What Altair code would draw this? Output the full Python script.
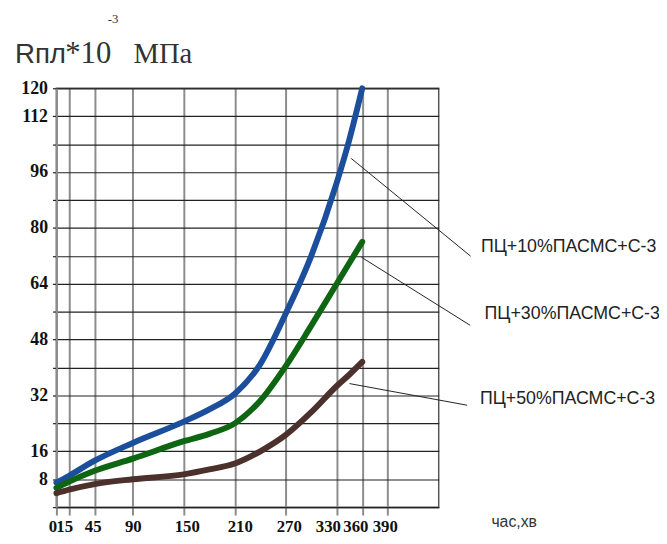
import altair as alt
import pandas as pd

# ---- data ----
times = [0, 15, 45, 90, 150, 180, 210, 240, 270, 300, 330, 345, 360]
blue = [7.0, 9.0, 13.3, 18.4, 24.5, 28.0, 32.5, 41.0, 55.5, 72.0, 93.0, 105.5, 120.0]
green = [5.5, 7.3, 10.4, 13.9, 18.9, 21.0, 24.0, 30.5, 40.4, 52.0, 64.0, 70.0, 76.0]
brown = [4.0, 5.0, 6.6, 8.0, 9.4, 10.8, 12.5, 16.0, 20.7, 27.2, 34.7, 38.0, 41.6]
series_names = ["ПЦ+10%ПАСМС+С-3", "ПЦ+30%ПАСМС+С-3", "ПЦ+50%ПАСМС+С-3"]
series_colors = ["#1b4f9c", "#0e6612", "#4b302b"]

x_ticks = [0, 15, 45, 90, 150, 210, 270, 330, 360, 390]
x_label_shift = [-4, -5, -2, 0, 3, 5, 3, -9, -7, -3]
y_grid = list(range(0, 121, 8))
y_labels = [8, 16, 32, 48, 64, 80, 96, 112, 120]

# leader lines (data units) and label anchors
lead_x1 = [347.0, 359.0, 345.0]
lead_y1 = [99.9, 71.6, 35.4]
lead_x2 = [487.6, 487.0, 483.5]
lead_y2 = [71.9, 52.1, 29.2]
lab_x = [499.7, 504.0, 498.5]
lab_y = [74.4, 55.2, 31.1]

x_title = "час,хв"
y_title_parts = ["Rпл", "*10", "-3", "МПа"]

rows = []
for name, vals in zip(series_names, [blue, green, brown]):
    for t, v in zip(times, vals):
        rows.append({"t": t, "v": v, "s": name})
df = pd.DataFrame(rows)

ann = pd.DataFrame({
    "s": series_names, "x1": lead_x1, "y1": lead_y1, "x2": lead_x2, "y2": lead_y2,
    "lx": lab_x, "ly": lab_y,
})

xs = alt.Scale(domain=[0, 450], nice=False, zero=False)
ys = alt.Scale(domain=[0, 120], nice=False, zero=False)

label_test = "indexof([" + ",".join(str(v) for v in y_labels) + "], datum.value) >= 0 ? datum.label : ''"
x_offset_cond = {
    "condition": [{"test": "datum.value == %d" % t, "value": s} for t, s in zip(x_ticks, x_label_shift) if s != 0],
    "value": 0,
}

x_axis = alt.Axis(
    values=x_ticks, title=None, grid=True, gridColor="#8c8c8c", gridWidth=2,
    tickColor="#8c8c8c", tickWidth=2, tickSize=8, domainColor="#222222", domainWidth=1.2,
    labelFont="Liberation Serif", labelFontSize=17, labelFontWeight="bold", labelColor="#111111",
    labelPadding=4, labelOverlap=False, labelFlush=False, labelOffset=x_offset_cond)
y_axis = alt.Axis(
    values=y_grid, labelExpr=label_test, title=None, grid=True, gridColor="#222222", gridWidth=1.2,
    tickColor="#222222", tickSize=4, tickWidth=1.2, domainColor="#8c8c8c", domainWidth=2,
    labelFont="Liberation Serif", labelFontSize=18, labelFontWeight="bold", labelColor="#111111",
    labelPadding=5, labelOverlap=False, labelFlush=False)

lines = alt.Chart(df).mark_line(interpolate="monotone", strokeWidth=6, strokeCap="round").encode(
    x=alt.X("t:Q", scale=xs, axis=x_axis),
    y=alt.Y("v:Q", scale=ys, axis=y_axis),
    color=alt.Color("s:N", scale=alt.Scale(domain=series_names, range=series_colors), legend=None),
    detail="s:N",
)

leaders = alt.Chart(ann).mark_rule(color="#222222", strokeWidth=1).encode(
    x=alt.X("x1:Q", scale=xs, axis=x_axis), y=alt.Y("y1:Q", scale=ys, axis=y_axis),
    x2="x2:Q", y2="y2:Q",
)

labels = alt.Chart(ann).mark_text(align="left", baseline="middle", font="Liberation Sans",
                                   fontSize=18, color="#222222").encode(
    x=alt.X("lx:Q", scale=xs, axis=x_axis), y=alt.Y("ly:Q", scale=ys, axis=y_axis), text="s:N",
)

xlab = alt.Chart(pd.DataFrame({"x": [512.0], "y": [-4.2], "txt": [x_title]})).mark_text(
    align="left", baseline="middle", font="Liberation Sans", fontSize=16, color="#333333").encode(
    x=alt.X("x:Q", scale=xs, axis=x_axis), y=alt.Y("y:Q", scale=ys, axis=y_axis), text="txt:N",
)

one = pd.DataFrame({"a": [0]})
t1 = alt.Chart(one).mark_text(align="left", baseline="alphabetic", font="Liberation Sans",
                              fontSize=28, color="#333333").encode(
    x=alt.value(-42), y=alt.value(-26), text=alt.value(y_title_parts[0]))
t2 = alt.Chart(one).mark_text(align="left", baseline="alphabetic", font="Liberation Serif",
                              fontSize=31, color="#333333").encode(
    x=alt.value(9), y=alt.value(-26), text=alt.value(y_title_parts[1]))
t3 = alt.Chart(one).mark_text(align="left", baseline="alphabetic", font="Liberation Serif",
                              fontSize=13, color="#333333").encode(
    x=alt.value(52), y=alt.value(-66), text=alt.value(y_title_parts[2]))
t4 = alt.Chart(one).mark_text(align="left", baseline="alphabetic", font="Liberation Serif",
                              fontSize=29, color="#333333").encode(
    x=alt.value(78), y=alt.value(-26), text=alt.value(y_title_parts[3]))

chart = alt.layer(lines, leaders, labels, xlab, t1, t2, t3, t4).properties(
    width=387, height=424,
    autosize=alt.AutoSizeParams(type="none"),
    padding={"left": 49, "top": 78, "right": 223, "bottom": 32},
).configure_view(stroke="#555555", strokeWidth=1.5)

chart.save("out.html", embed_options={"renderer": "svg", "actions": False})
